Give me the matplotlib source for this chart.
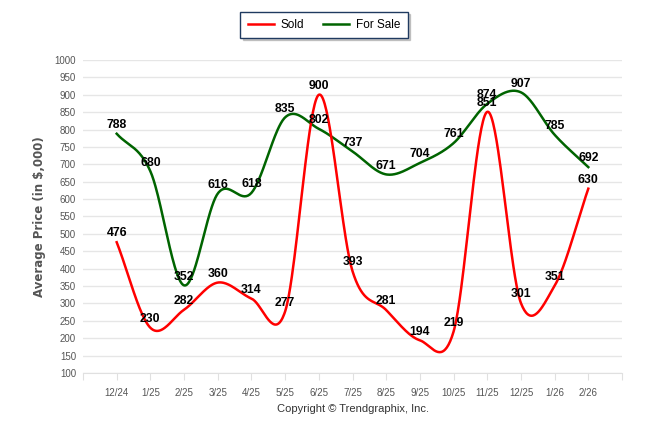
import numpy as np
import matplotlib
matplotlib.use("Agg")
import matplotlib.pyplot as plt
from matplotlib.lines import Line2D

months = ["12/24", "1/25", "2/25", "3/25", "4/25", "5/25", "6/25", "7/25",
          "8/25", "9/25", "10/25", "11/25", "12/25", "1/26", "2/26"]
sold = [476, 230, 282, 360, 314, 277, 900, 393, 281, 194, 219, 851, 301, 351, 630]
for_sale = [788, 680, 352, 616, 618, 835, 802, 737, 671, 704, 761, 874, 907, 785, 692]


def smooth(y, n=40):
    # catmull-rom style spline through the points
    y = np.asarray(y, dtype=float)
    m = np.zeros_like(y)
    m[1:-1] = (y[2:] - y[:-2]) / 2
    m[0] = y[1] - y[0]
    m[-1] = y[-1] - y[-2]
    xs, ys = [], []
    for i in range(len(y) - 1):
        t = np.linspace(0, 1, n, endpoint=False)
        h00 = 2 * t**3 - 3 * t**2 + 1
        h10 = t**3 - 2 * t**2 + t
        h01 = -2 * t**3 + 3 * t**2
        h11 = t**3 - t**2
        xs.append(i + t)
        ys.append(h00 * y[i] + h10 * m[i] + h01 * y[i + 1] + h11 * m[i + 1])
    xs.append([len(y) - 1])
    ys.append([y[-1]])
    return np.concatenate(xs), np.concatenate(ys)


fig = plt.figure(figsize=(6.46, 4.34), dpi=100)
ax = fig.add_axes([83 / 646, 1 - 373 / 434, (622 - 83) / 646, (373 - 60) / 434])

red = "#FF0000"
green = "#006400"

x = np.arange(len(months))
sx, sy = smooth(for_sale)
ax.plot(sx, sy, color=green, lw=1.8, zorder=3)
sx, sy = smooth(sold)
ax.plot(sx, sy, color=red, lw=1.8, zorder=3)

for series in (for_sale, sold):
    for xi, v in zip(x, series):
        ax.annotate(str(v), (xi, v), xytext=(0, 2), textcoords="offset points",
                    ha="center", va="bottom", fontsize=8.8, fontweight="bold",
                    family="Liberation Sans", color="black", zorder=4)

ax.set_xlim(-1, 15)
ax.set_ylim(100, 1000)
ax.set_yticks(np.arange(100, 1001, 50))
ax.set_xticks(np.arange(-1, 16))
ax.set_xticklabels([""] + months + [""])
ax.grid(axis="y", color="#E6E6E6", lw=1)
ax.set_axisbelow(True)
for s in ["top", "right", "left"]:
    ax.spines[s].set_visible(False)
ax.spines["bottom"].set_color("#E0E0E0")
ax.tick_params(axis="y", length=0, labelsize=7, labelcolor="#555555", pad=5)
ax.tick_params(axis="x", length=5, color="#E0E0E0", labelsize=7,
               labelcolor="#555555", pad=6)
for lab in ax.get_xticklabels() + ax.get_yticklabels():
    lab.set_family("Liberation Sans")

ax.set_ylabel("Average Price (in $,000)", fontsize=8.5, fontweight="bold",
              color="#555555", labelpad=6)

fig.text(353 / 646, 1 - 409 / 434, "Copyright \u00a9 Trendgraphix, Inc.",
         ha="center", va="center", fontsize=8, color="#333333",
         family="Liberation Sans")

handles = [Line2D([], [], color=red, lw=1.8), Line2D([], [], color=green, lw=1.8)]
leg = fig.legend(handles, ["Sold", "For Sale"], loc="center",
                 bbox_to_anchor=(324 / 646, 1 - 25 / 434), ncol=2,
                 frameon=True, fancybox=False,
                 shadow={"ox": 1.5, "oy": -1.5, "color": "#999999"},
                 edgecolor="#1F3A60", handlelength=2.2, columnspacing=1.6,
                 handletextpad=0.6, borderpad=0.6,
                 prop={"family": "Liberation Sans", "size": 8.5})
leg.get_frame().set_linewidth(1.0)

fig.savefig("out.png", dpi=100)
